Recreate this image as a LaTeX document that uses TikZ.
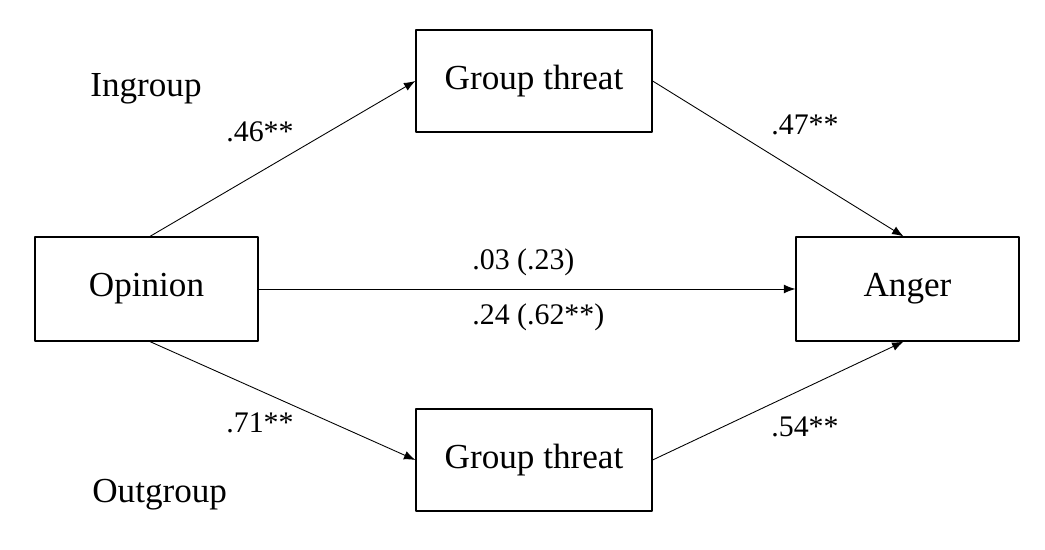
\documentclass[tikz,border=0pt]{standalone}
\usepackage{fontspec}
\setmainfont{Liberation Serif}
\usetikzlibrary{arrows.meta}
\begin{document}
\begin{tikzpicture}[font=\fontsize{20}{24}\selectfont, line join=round, >={Latex[length=6.5pt,width=5pt]},
    varbox/.style={draw, line width=0.7pt, minimum width=4.46cm, minimum height=2.08cm, inner sep=0pt},
    medbox/.style={varbox, minimum width=4.72cm, minimum height=2.04cm},
    path/.style={->, line width=0.5pt},
    coef/.style={inner sep=0pt, anchor=base, font=\fontsize{17}{20}\selectfont},
    grp/.style={inner sep=0pt, anchor=base west}]
            \useasboundingbox (0,0) rectangle (20.9,11);
            \node[varbox] (opinion) at (2.93,5.22) {Opinion};
            \node[varbox] (anger) at (18.15,5.22) {Anger};
            \node[medbox] (ingroup) at (10.68,9.38) {Group threat};
            \node[medbox] (outgroup) at (10.68,1.8) {Group threat};
            \draw[path] ([xshift=0.07cm]opinion.north) -- (ingroup.west);
            \draw[path] (ingroup.east) -- ([xshift=-0.08cm]anger.north);
            \draw[path] (opinion.east) -- (anger.west);
            \draw[path] ([xshift=0.07cm]opinion.south) -- (outgroup.west);
            \draw[path] (outgroup.east) -- ([xshift=-0.08cm]anger.south);
            \node[grp] (lin) at (1.8,9.06) {Ingroup};
            \node[grp] (lout) at (1.84,0.94) {Outgroup};
            \node[coef] (a1) at (5.2,8.16) {.46**};
            \node[coef] (b1) at (16.1,8.3) {.47**};
            \node[coef] (a2) at (5.2,2.34) {.71**};
            \node[coef] (b2) at (16.1,2.26) {.54**};
            \node[coef, anchor=base west] (c1) at (9.44,5.6) {.03 (.23)};
            \node[coef, anchor=base west] (c2) at (9.44,4.5) {.24 (.62**)};
        \end{tikzpicture}
\end{document}
